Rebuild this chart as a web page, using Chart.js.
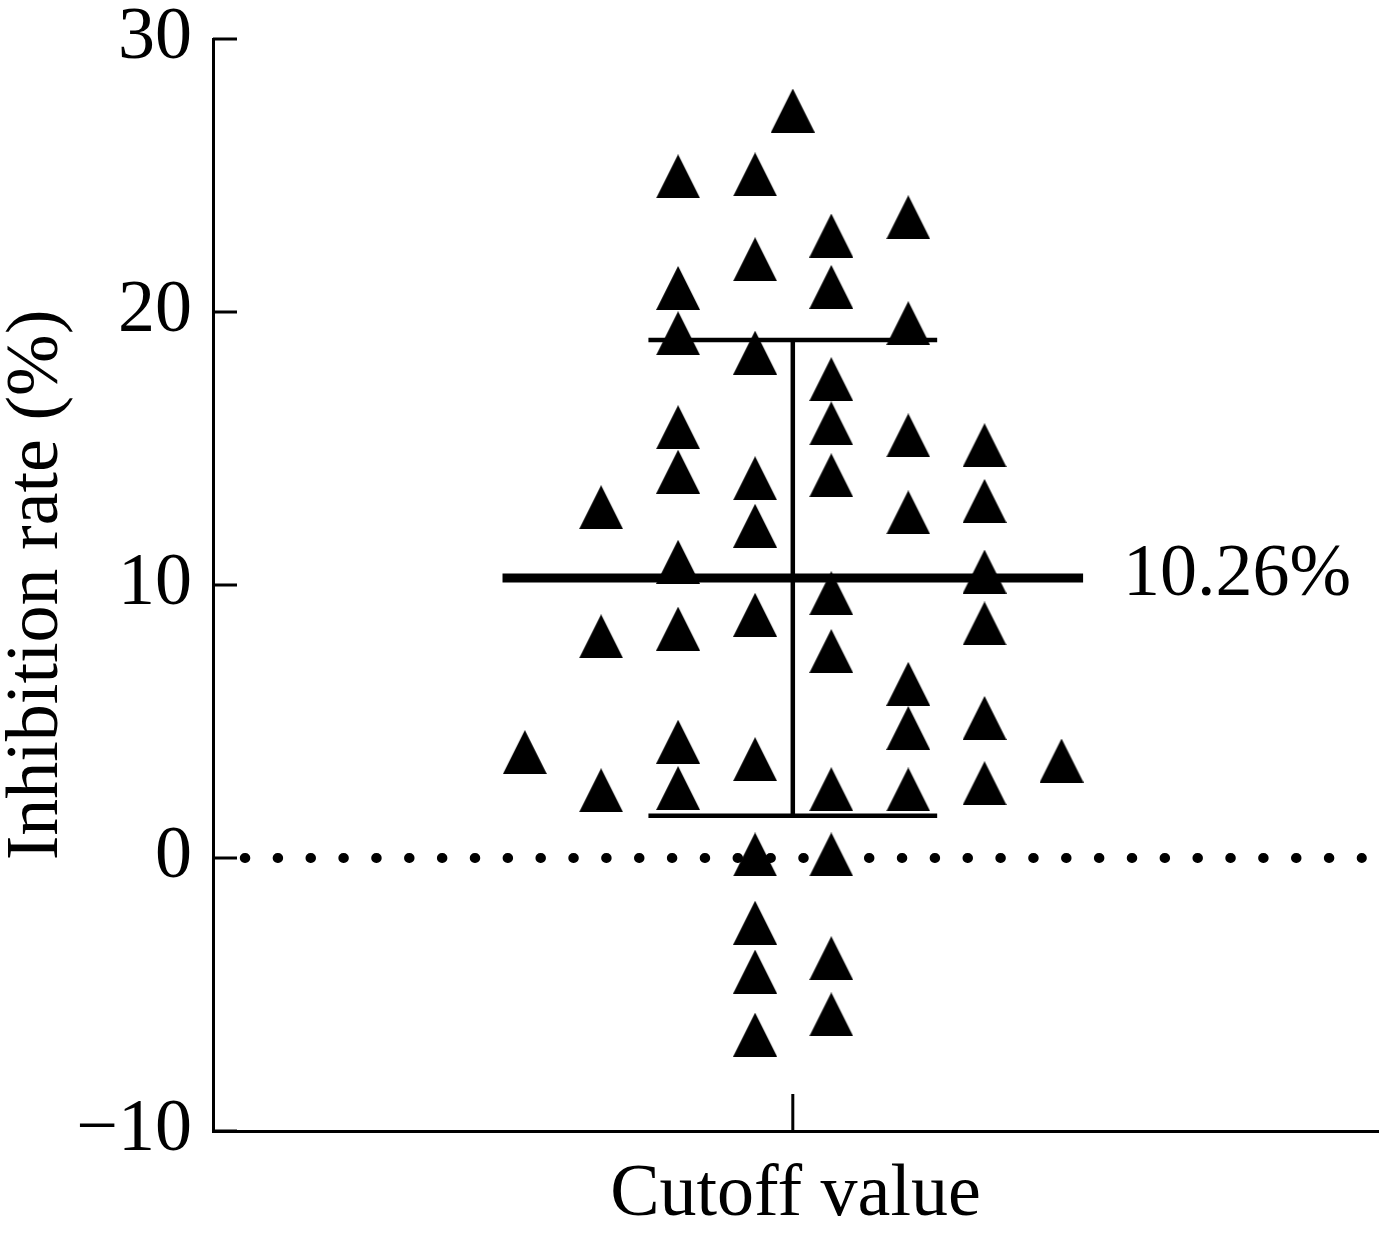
<!DOCTYPE html>
<html lang="en">
<head>
<meta charset="UTF-8">
<title>Inhibition rate</title>
<script src="https://cdn.jsdelivr.net/npm/chart.js@4"></script>
<style>
    html, body { margin: 0; padding: 0; background: #fff; }
    #wrap { width: 1382px; height: 1244px; }
</style>
</head>
<body>
<div id="wrap"><canvas id="chart" width="1382" height="1244"></canvas></div>
<script>
    // beeswarm slots (x offset of each column) and the values in each column
    const slotX = [-3.48, -2.49, -1.49, -0.49, 0, 0.5, 1.5, 2.49, 3.49];
    const col1 = [3.88];
    const col2 = [12.85, 8.12, 2.48];
    const col3 = [24.97, 20.88, 19.22, 15.78, 14.15, 10.85, 8.40, 4.26, 2.56];
    const col4 = [25.04, 21.93, 18.51, 13.91, 12.17, 8.91, 3.62, 0.13, -2.37, -4.16, -6.47];
    const col5 = [27.38];
    const col6 = [22.80, 20.92, 17.54, 15.92, 14.02, 9.70, 7.58, 2.52, 0.13, -3.67, -5.73];
    const col7 = [23.47, 19.59, 15.48, 12.66, 6.38, 4.76, 2.51];
    const col8 = [15.12, 13.08, 10.49, 8.59, 5.13, 2.74];
    const col9 = [3.57];
    const columns = [col1, col2, col3, col4, col5, col6, col7, col8, col9];

    const yTicks = [-10, 0, 10, 20, 30];
    const meanValue = 10.26;
    const sdValue = 8.71;
    const meanLabel = '10.26%';

    const SERIF = '"Liberation Serif", "Times New Roman", serif';
    const meanHalf = 3.77;   // half length of the mean bar (x units)
    const capHalf = 1.875;   // half length of the SD caps
    const zeroFrom = -7.117, zeroTo = 7.39;

    function makeTriangle(w, h) {
        const c = document.createElement('canvas');
        c.width = w; c.height = h;
        const g = c.getContext('2d');
        g.fillStyle = '#000';
        g.beginPath();
        g.moveTo(w / 2, 0);
        g.lineTo(w, h);
        g.lineTo(0, h);
        g.closePath();
        g.fill();
        return c;
    }
    const tri = makeTriangle(44, 44);

    const points = [];
    columns.forEach((vals, i) => {
        vals.forEach(v => points.push({ x: slotX[i], y: v }));
    });

    function lineSet(data, width, extra) {
        return Object.assign({
            data: data,
            showLine: true,
            borderColor: '#000',
            borderWidth: width,
            pointRadius: 0,
            borderCapStyle: 'butt'
        }, extra || {});
    }

    function noPad(s) {
        s.paddingTop = 0; s.paddingBottom = 0;
        s.paddingLeft = 0; s.paddingRight = 0;
    }

    const extras = {
        id: 'extras',
        afterDraw(chart) {
            const { ctx, scales: { x, y } } = chart;
            ctx.save();
            ctx.strokeStyle = '#000';
            ctx.lineWidth = 3;
            ctx.beginPath();
            yTicks.forEach(v => {
                const py = y.getPixelForValue(v);
                ctx.moveTo(x.left, py);
                ctx.lineTo(x.left + 24, py);
            });
            const cx = x.getPixelForValue(0);
            ctx.moveTo(cx, y.bottom);
            ctx.lineTo(cx, y.bottom - 37);
            ctx.stroke();

            ctx.font = '74px ' + SERIF;
            ctx.fillStyle = '#000';
            ctx.textBaseline = 'middle';
            ctx.textAlign = 'left';
            ctx.fillText(meanLabel, x.getPixelForValue(meanHalf) + 40, y.getPixelForValue(meanValue) - 2);
            ctx.restore();
        }
    };

    new Chart(document.getElementById('chart'), {
        type: 'scatter',
        data: {
            datasets: [
                { data: points, pointStyle: tri, pointRadius: 22, showLine: false },
                lineSet([{ x: -meanHalf, y: meanValue }, { x: meanHalf, y: meanValue }], 9),
                lineSet([{ x: 0, y: meanValue - sdValue }, { x: 0, y: meanValue + sdValue }], 4.5),
                lineSet([{ x: -capHalf, y: meanValue + sdValue }, { x: capHalf, y: meanValue + sdValue }], 4.5),
                lineSet([{ x: -capHalf, y: meanValue - sdValue }, { x: capHalf, y: meanValue - sdValue }], 4.5),
                lineSet([{ x: zeroFrom, y: 0 }, { x: zeroTo, y: 0 }], 10,
                    { borderDash: [0.5, 32.35], borderCapStyle: 'round' })
            ]
        },
        options: {
            responsive: false,
            devicePixelRatio: 1,
            animation: false,
            layout: { autoPadding: false, padding: { top: 39, right: 4, bottom: 0, left: 0 } },
            plugins: {
                legend: { display: false },
                tooltip: { enabled: false }
            },
            scales: {
                x: {
                    type: 'linear',
                    min: -7.53,
                    max: 7.6,
                    ticks: { display: false },
                    grid: { display: false, drawTicks: false },
                    border: { color: '#000', width: 3 },
                    title: {
                        display: true,
                        text: 'Cutoff value',
                        color: '#000',
                        font: { family: SERIF, size: 74, lineHeight: 1 },
                        padding: { top: 0, bottom: 11 }
                    },
                    afterFit: s => { s.height = 113; noPad(s); }
                },
                y: {
                    min: -10,
                    max: 30,
                    ticks: {
                        stepSize: 10,
                        color: '#000',
                        padding: 21,
                        font: { family: SERIF, size: 74, lineHeight: 1 },
                        callback: v => (v < 0 ? '\u2212' + Math.abs(v) : String(v))
                    },
                    grid: { display: false, drawTicks: false },
                    border: { color: '#000', width: 3 },
                    title: {
                        display: true,
                        text: 'Inhibition rate (%)',
                        color: '#000',
                        font: { family: SERIF, size: 74, lineHeight: 1 },
                        padding: { top: 1, bottom: 0 }
                    },
                    afterFit: s => { s.width = 213; noPad(s); }
                }
            }
        },
        plugins: [extras]
    });
</script>
</body>
</html>
